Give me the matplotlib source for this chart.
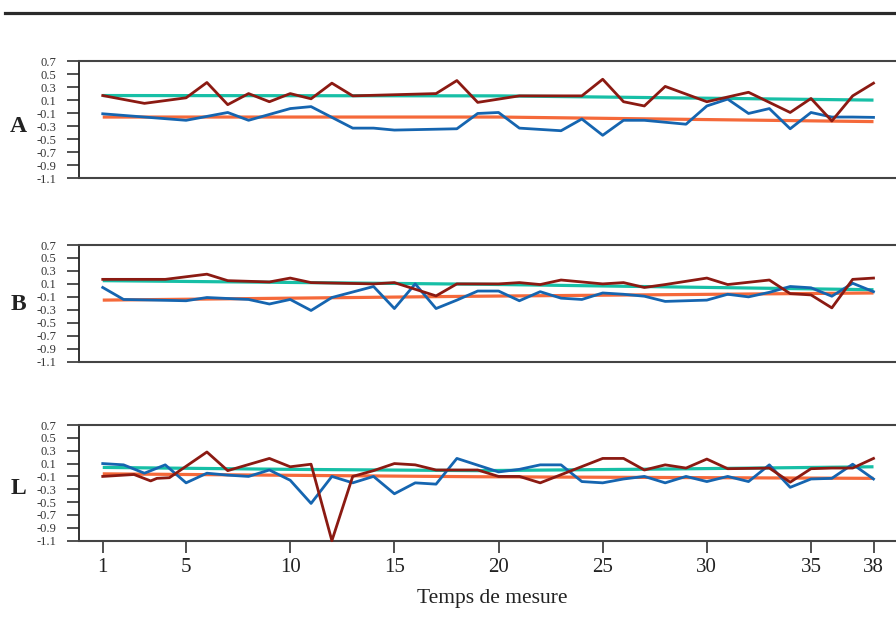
import matplotlib
matplotlib.use("Agg")
import matplotlib.pyplot as plt
from matplotlib.lines import Line2D
import numpy as np

plt.rcParams['font.family'] = ['Liberation Serif', 'DejaVu Serif']

# ---------------- data ----------------
panel_names = ["A", "B", "L"]

# Panel A
a_red_x = [1, 3, 5, 6, 7, 8, 9, 10, 11, 12, 13, 17, 18, 19, 21, 24, 25, 26, 27, 28, 30, 32, 34, 35, 36, 37, 38]
a_red_y = [0.17, 0.05, 0.135, 0.37, 0.03, 0.20, 0.075, 0.20, 0.12, 0.36, 0.165, 0.20, 0.40, 0.065, 0.165, 0.165, 0.42, 0.075, 0.01, 0.31, 0.075, 0.22, -0.09, 0.125, -0.22, 0.165, 0.36]
a_blue_x = [1, 3, 5, 7, 8, 10, 11, 13, 14, 15, 18, 19, 20, 21, 23, 24, 25, 26, 27, 29, 30, 31, 32, 33, 34, 35, 36, 37, 38]
a_blue_y = [-0.11, -0.16, -0.21, -0.09, -0.21, -0.03, 0.0, -0.33, -0.33, -0.36, -0.34, -0.105, -0.09, -0.33, -0.37, -0.19, -0.44, -0.21, -0.21, -0.27, 0.01, 0.115, -0.105, -0.03, -0.34, -0.09, -0.16, -0.16, -0.165]
a_teal_x = [1, 20, 38]
a_teal_y = [0.17, 0.165, 0.10]
a_orange_x = [1, 20, 38]
a_orange_y = [-0.16, -0.16, -0.23]

# Panel B
b_red_x = [1, 2, 3, 4, 5, 6, 7, 9, 10, 11, 14, 15, 17, 18, 20, 21, 22, 23, 24, 25, 26, 27, 28, 29, 30, 31, 33, 34, 35, 36, 37, 38]
b_red_y = [0.17, 0.17, 0.17, 0.17, 0.21, 0.25, 0.15, 0.13, 0.19, 0.12, 0.10, 0.12, -0.085, 0.10, 0.10, 0.12, 0.09, 0.16, 0.13, 0.10, 0.12, 0.045, 0.09, 0.14, 0.19, 0.09, 0.16, -0.05, -0.07, -0.27, 0.17, 0.19]
b_blue_x = [1, 2, 5, 6, 8, 9, 10, 11, 12, 14, 15, 16, 17, 18, 19, 20, 21, 22, 23, 24, 25, 26, 27, 28, 29, 30, 31, 32, 33, 34, 35, 36, 37, 38]
b_blue_y = [0.045, -0.14, -0.16, -0.11, -0.14, -0.21, -0.14, -0.31, -0.11, 0.06, -0.28, 0.10, -0.28, -0.15, -0.01, -0.01, -0.16, -0.02, -0.12, -0.14, -0.04, -0.06, -0.09, -0.17, -0.16, -0.15, -0.06, -0.10, -0.03, 0.06, 0.04, -0.09, 0.11, -0.02]
b_teal_x = [1, 19, 38]
b_teal_y = [0.15, 0.095, 0.01]
b_orange_x = [1, 19, 38]
b_orange_y = [-0.15, -0.09, -0.04]

# Panel L
l_red_x = [1, 2.5, 3.3, 3.6, 4.2, 6, 7, 9, 10, 11, 12, 13, 14, 15, 16, 17, 19, 20, 21, 22, 25, 26, 27, 28, 29, 30, 31, 33, 34, 35, 36, 37, 38]
l_red_y = [-0.10, -0.07, -0.17, -0.13, -0.12, 0.28, -0.01, 0.18, 0.05, 0.09, -1.10, -0.10, -0.01, 0.10, 0.08, 0.0, 0.0, -0.10, -0.10, -0.20, 0.18, 0.18, 0.0, 0.08, 0.03, 0.17, 0.02, 0.03, -0.19, 0.02, 0.03, 0.03, 0.18]
l_blue_x = [1, 2, 3, 4, 5, 6, 7, 8, 9, 10, 11, 12, 13, 14, 15, 16, 17, 18, 20, 21, 22, 23, 24, 25, 26, 27, 28, 29, 30, 31, 32, 33, 34, 35, 36, 37, 38]
l_blue_y = [0.10, 0.08, -0.05, 0.08, -0.20, -0.05, -0.08, -0.10, 0.0, -0.16, -0.52, -0.10, -0.20, -0.10, -0.37, -0.20, -0.22, 0.18, -0.03, 0.01, 0.08, 0.08, -0.18, -0.20, -0.14, -0.10, -0.20, -0.10, -0.18, -0.10, -0.18, 0.08, -0.27, -0.14, -0.13, 0.09, -0.14]
l_teal_x = [1, 10, 19, 28, 38]
l_teal_y = [0.04, 0.01, -0.01, 0.015, 0.05]
l_orange_x = [1, 19, 38]
l_orange_y = [-0.06, -0.105, -0.13]

ytick_vals = [0.7, 0.5, 0.3, 0.1, -0.1, -0.3, -0.5, -0.7, -0.9, -1.1]
ytick_labels = ["0.7", "0.5", "0.3", "0.1", "-0.1", "-0.3", "-0.5", "-0.7", "-0.9", "-1.1"]
xtick_vals = [1, 5, 10, 15, 20, 25, 30, 35, 38]
xtick_labels = ["1", "5", "10", "15", "20", "25", "30", "35", "38"]
x_label = "Temps de mesure"

panels = [
    (a_red_x, a_red_y, a_blue_x, a_blue_y, a_teal_x, a_teal_y, a_orange_x, a_orange_y),
    (b_red_x, b_red_y, b_blue_x, b_blue_y, b_teal_x, b_teal_y, b_orange_x, b_orange_y),
    (l_red_x, l_red_y, l_blue_x, l_blue_y, l_teal_x, l_teal_y, l_orange_x, l_orange_y),
]

# ---------------- style ----------------
RED = "#8B1A12"
BLUE = "#1565B0"
TEAL = "#17BFA6"
ORANGE = "#F5693A"
W, H = 896, 639

fig = plt.figure(figsize=(W / 100, H / 100), dpi=100)

# panel pixel extents (top, bottom)
extents = [(61, 178.3), (245, 361.7), (425, 540.7)]
label_y = [126, 305, 488]
left_px = 79

for i, (name, data, (top, bot)) in enumerate(zip(panel_names, panels, extents)):
    rx, ry, bx, by, tx, ty, ox, oy = data
    ax = fig.add_axes([left_px / W, 1 - bot / H, (W - left_px) / W, (bot - top) / H])
    ax.plot(tx, ty, color=TEAL, lw=2.3, solid_capstyle='butt', zorder=2)
    ax.plot(ox, oy, color=ORANGE, lw=2.3, solid_capstyle='butt', zorder=2)
    ax.plot(bx, by, color=BLUE, lw=2.0, zorder=3, clip_on=False)
    ax.plot(rx, ry, color=RED, lw=2.0, zorder=4, clip_on=False)
    ax.set_xlim(-0.14, 39.08)
    ax.set_ylim(-1.1, 0.7)
    ax.set_yticks(ytick_vals)
    ax.set_yticklabels(ytick_labels)
    ax.tick_params(axis='y', direction='out', length=8.6, width=1.2, colors='#333333',
                   labelsize=9, pad=7.5, labelcolor='#333333')
    for s in ['top', 'bottom']:
        ax.spines[s].set_color('#444444')
        ax.spines[s].set_linewidth(1.5)
    ax.spines['left'].set_color('#222222')
    ax.spines['left'].set_linewidth(1.3)
    ax.spines['right'].set_visible(False)
    if i < 2:
        ax.set_xticks([])
    else:
        ax.set_xticks(xtick_vals)
        ax.set_xticklabels(xtick_labels)
        ax.tick_params(axis='x', direction='out', length=8.6, width=1.2, colors='#333333',
                       labelsize=15, pad=4, labelcolor='#222222')
    fig.text(18 / W, 1 - label_y[i] / H, name, fontsize=17, fontweight='bold',
             ha='center', va='center', color='#222222')

    # extend top/bottom spine to tick length on the left (top and bottom tick already do)

fig.text(492 / W, 1 - 598 / H, x_label, fontsize=15.5, ha='center', va='center', color='#222222')

# decorative top rule
fig.add_artist(Line2D([5 / W, 1.0], [1 - 13 / H, 1 - 13 / H], transform=fig.transFigure,
                      color='#2a2a2a', lw=2.3))

fig.savefig("out.png", dpi=100)
